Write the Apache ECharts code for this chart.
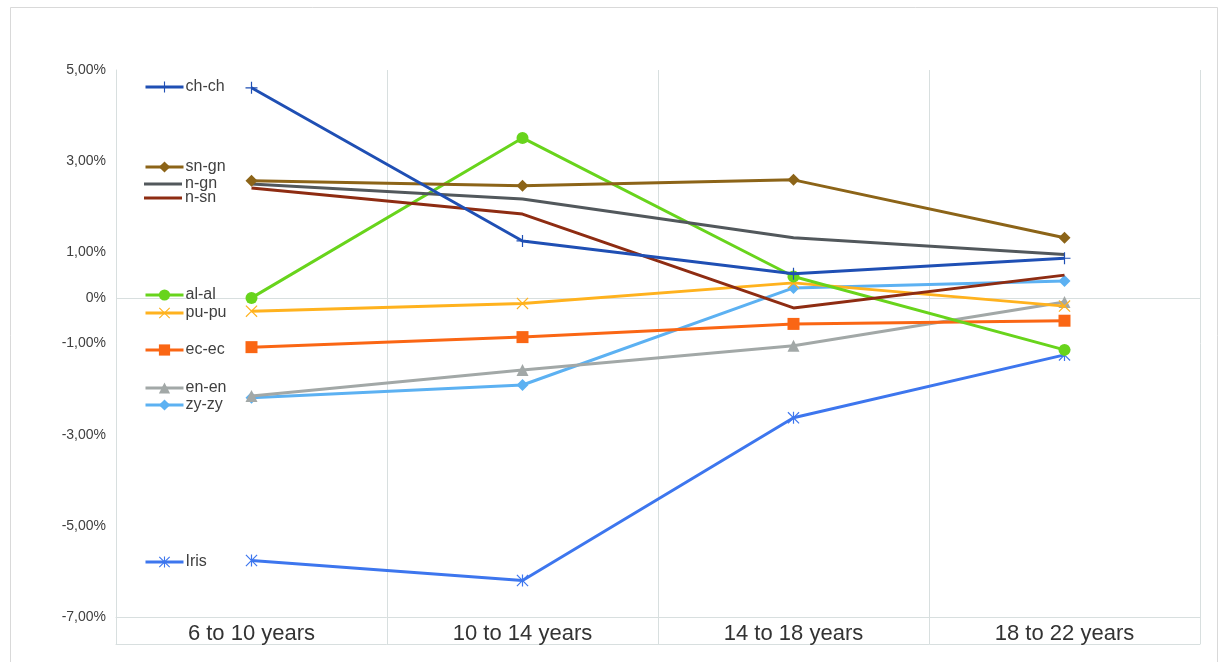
<!DOCTYPE html>
<html>
<head>
<meta charset="utf-8">
<script src="https://cdn.jsdelivr.net/npm/echarts@6/dist/echarts.min.js"></script>
<style>
  html, body { margin: 0; padding: 0; background: #fff; }
  #chart { width: 1223px; height: 662px; }
</style>
</head>
<body>
<div id="chart"></div>
<script>
// categories and values (percent)
const ageGroups = ['6 to 10 years', '10 to 14 years', '14 to 18 years', '18 to 22 years'];

const chch = [4.61, 1.25, 0.53, 0.87];
const sngn = [2.57, 2.46, 2.59, 1.32];
const ngn  = [2.50, 2.17, 1.32, 0.95];
const nsn  = [2.41, 1.84, -0.22, 0.50];
const alal = [0.00, 3.51, 0.47, -1.14];
const pupu = [-0.29, -0.12, 0.33, -0.18];
const ecec = [-1.08, -0.86, -0.57, -0.50];
const enen = [-2.15, -1.58, -1.05, -0.09];
const zyzy = [-2.19, -1.91, 0.22, 0.37];
const iris = [-5.76, -6.20, -2.63, -1.25];

const yTickLabels = [5, 3, 1, 0, -1, -3, -5, -7];

// where each legend entry sits (pixel y of its centre)
const legendY = { 'ch-ch': 88, 'sn-gn': 168, 'n-gn': 185, 'n-sn': 199, 'al-al': 296,
                  'pu-pu': 314, 'ec-ec': 351, 'en-en': 389, 'zy-zy': 406, 'Iris': 563 };

const plusPath = 'path://M9,0h2v9h9v2h-9v9h-2v-9h-9v-2h9z';
const crossPath = 'path://M1.4,0L10,8.6L18.6,0L20,1.4L11.4,10L20,18.6L18.6,20L10,11.4L1.4,20L0,18.6L8.6,10L0,1.4Z';
const starPath = 'path://M1.4,0L10,8.6L18.6,0L20,1.4L11.4,10L20,18.6L18.6,20L10,11.4L1.4,20L0,18.6L8.6,10L0,1.4Z M9,0h2v20h-2z';

const lines = [
  { name: 'ch-ch', data: chch, color: '#1f4fb4', symbol: plusPath, size: 12 },
  { name: 'sn-gn', data: sngn, color: '#8c6418', symbol: 'diamond', size: 12 },
  { name: 'n-gn',  data: ngn,  color: '#52585c', symbol: 'none', size: 0 },
  { name: 'n-sn',  data: nsn,  color: '#8e2c12', symbol: 'none', size: 0 },
  { name: 'al-al', data: alal, color: '#68d41c', symbol: 'circle', size: 12 },
  { name: 'pu-pu', data: pupu, color: '#ffb21e', symbol: crossPath, size: 12 },
  { name: 'ec-ec', data: ecec, color: '#fa6614', symbol: 'rect', size: 12 },
  { name: 'en-en', data: enen, color: '#a2a8a7', symbol: 'triangle', size: 12 },
  { name: 'zy-zy', data: zyzy, color: '#5cb1f2', symbol: 'diamond', size: 12 },
  { name: 'Iris',  data: iris, color: '#3d76ee', symbol: starPath, size: 12 }
];

const gridColor = '#d8dfdf';
const textColor = '#404040';
const font = 'Liberation Sans, Arial, sans-serif';

function pct(v) {
  if (v === 0) return '0%';
  return v.toFixed(2).replace('.', ',') + '%';
}

const chart = echarts.init(document.getElementById('chart'));

const series = lines.map(function (s, i) {
  const item = {
    name: s.name,
    type: 'line',
    data: s.data,
    symbol: s.symbol,
    symbolSize: s.size,
    showSymbol: s.symbol !== 'none',
    lineStyle: { width: 3, color: s.color },
    itemStyle: { color: s.color, borderWidth: 0 },
    z: 10 - i,
    animation: false
  };
  if (i === 0) {
    item.markLine = {
      silent: true,
      symbol: 'none',
      label: { show: false },
      lineStyle: { color: gridColor, type: 'solid', width: 1 },
      data: [{ yAxis: 0 }],
      z: 1
    };
  }
  return item;
});

const legends = lines.map(function (s) {
  const plain = s.symbol === 'none';
  return {
    data: [plain ? { name: s.name, icon: 'rect' } : s.name],
    left: 144,
    top: legendY[s.name] - 9,
    height: 18,
    padding: 0,
    itemWidth: 38,
    itemHeight: plain ? 3 : 14,
    itemGap: 0,
    selectedMode: false,
    lineStyle: { width: 3 },
    textStyle: { fontSize: 16, color: textColor, fontFamily: font, padding: [0, 0, 0, plain ? -2 : -3] }
  };
});

chart.setOption({
  backgroundColor: '#fff',
  animation: false,
  graphic: [{
    type: 'rect',
    shape: { x: 10.5, y: 7.5, width: 1207, height: 700 },
    style: { fill: 'none', stroke: '#d9d9d9', lineWidth: 1 },
    silent: true
  }],
  legend: legends,
  grid: { left: 116, right: 23, top: 70, bottom: 45 },
  xAxis: [{
    type: 'category',
    data: ageGroups,
    boundaryGap: true,
    axisLine: { show: true, onZero: false, lineStyle: { color: gridColor, width: 1 } },
    axisTick: { show: true, interval: 0, length: 27, lineStyle: { color: gridColor } },
    splitLine: { show: true, interval: 0, lineStyle: { color: gridColor, width: 1 } },
    axisLabel: { fontSize: 22, color: '#333', margin: 6, fontFamily: font }
  }, {
    type: 'category',
    data: ageGroups,
    position: 'bottom',
    offset: 27,
    axisLine: { show: true, onZero: false, lineStyle: { color: gridColor, width: 1 } },
    axisTick: { show: false },
    axisLabel: { show: false },
    splitLine: { show: false }
  }],
  yAxis: {
    type: 'value',
    min: -7,
    max: 5,
    interval: 1,
    axisLine: { show: true, lineStyle: { color: gridColor } },
    axisTick: { show: false },
    splitLine: { show: false },
    axisLabel: {
      fontSize: 14,
      color: textColor,
      margin: 10,
      fontFamily: font,
      formatter: function (v) {
        return yTickLabels.indexOf(v) >= 0 ? pct(v) : '';
      }
    }
  },
  series: series
});
</script>
</body>
</html>
